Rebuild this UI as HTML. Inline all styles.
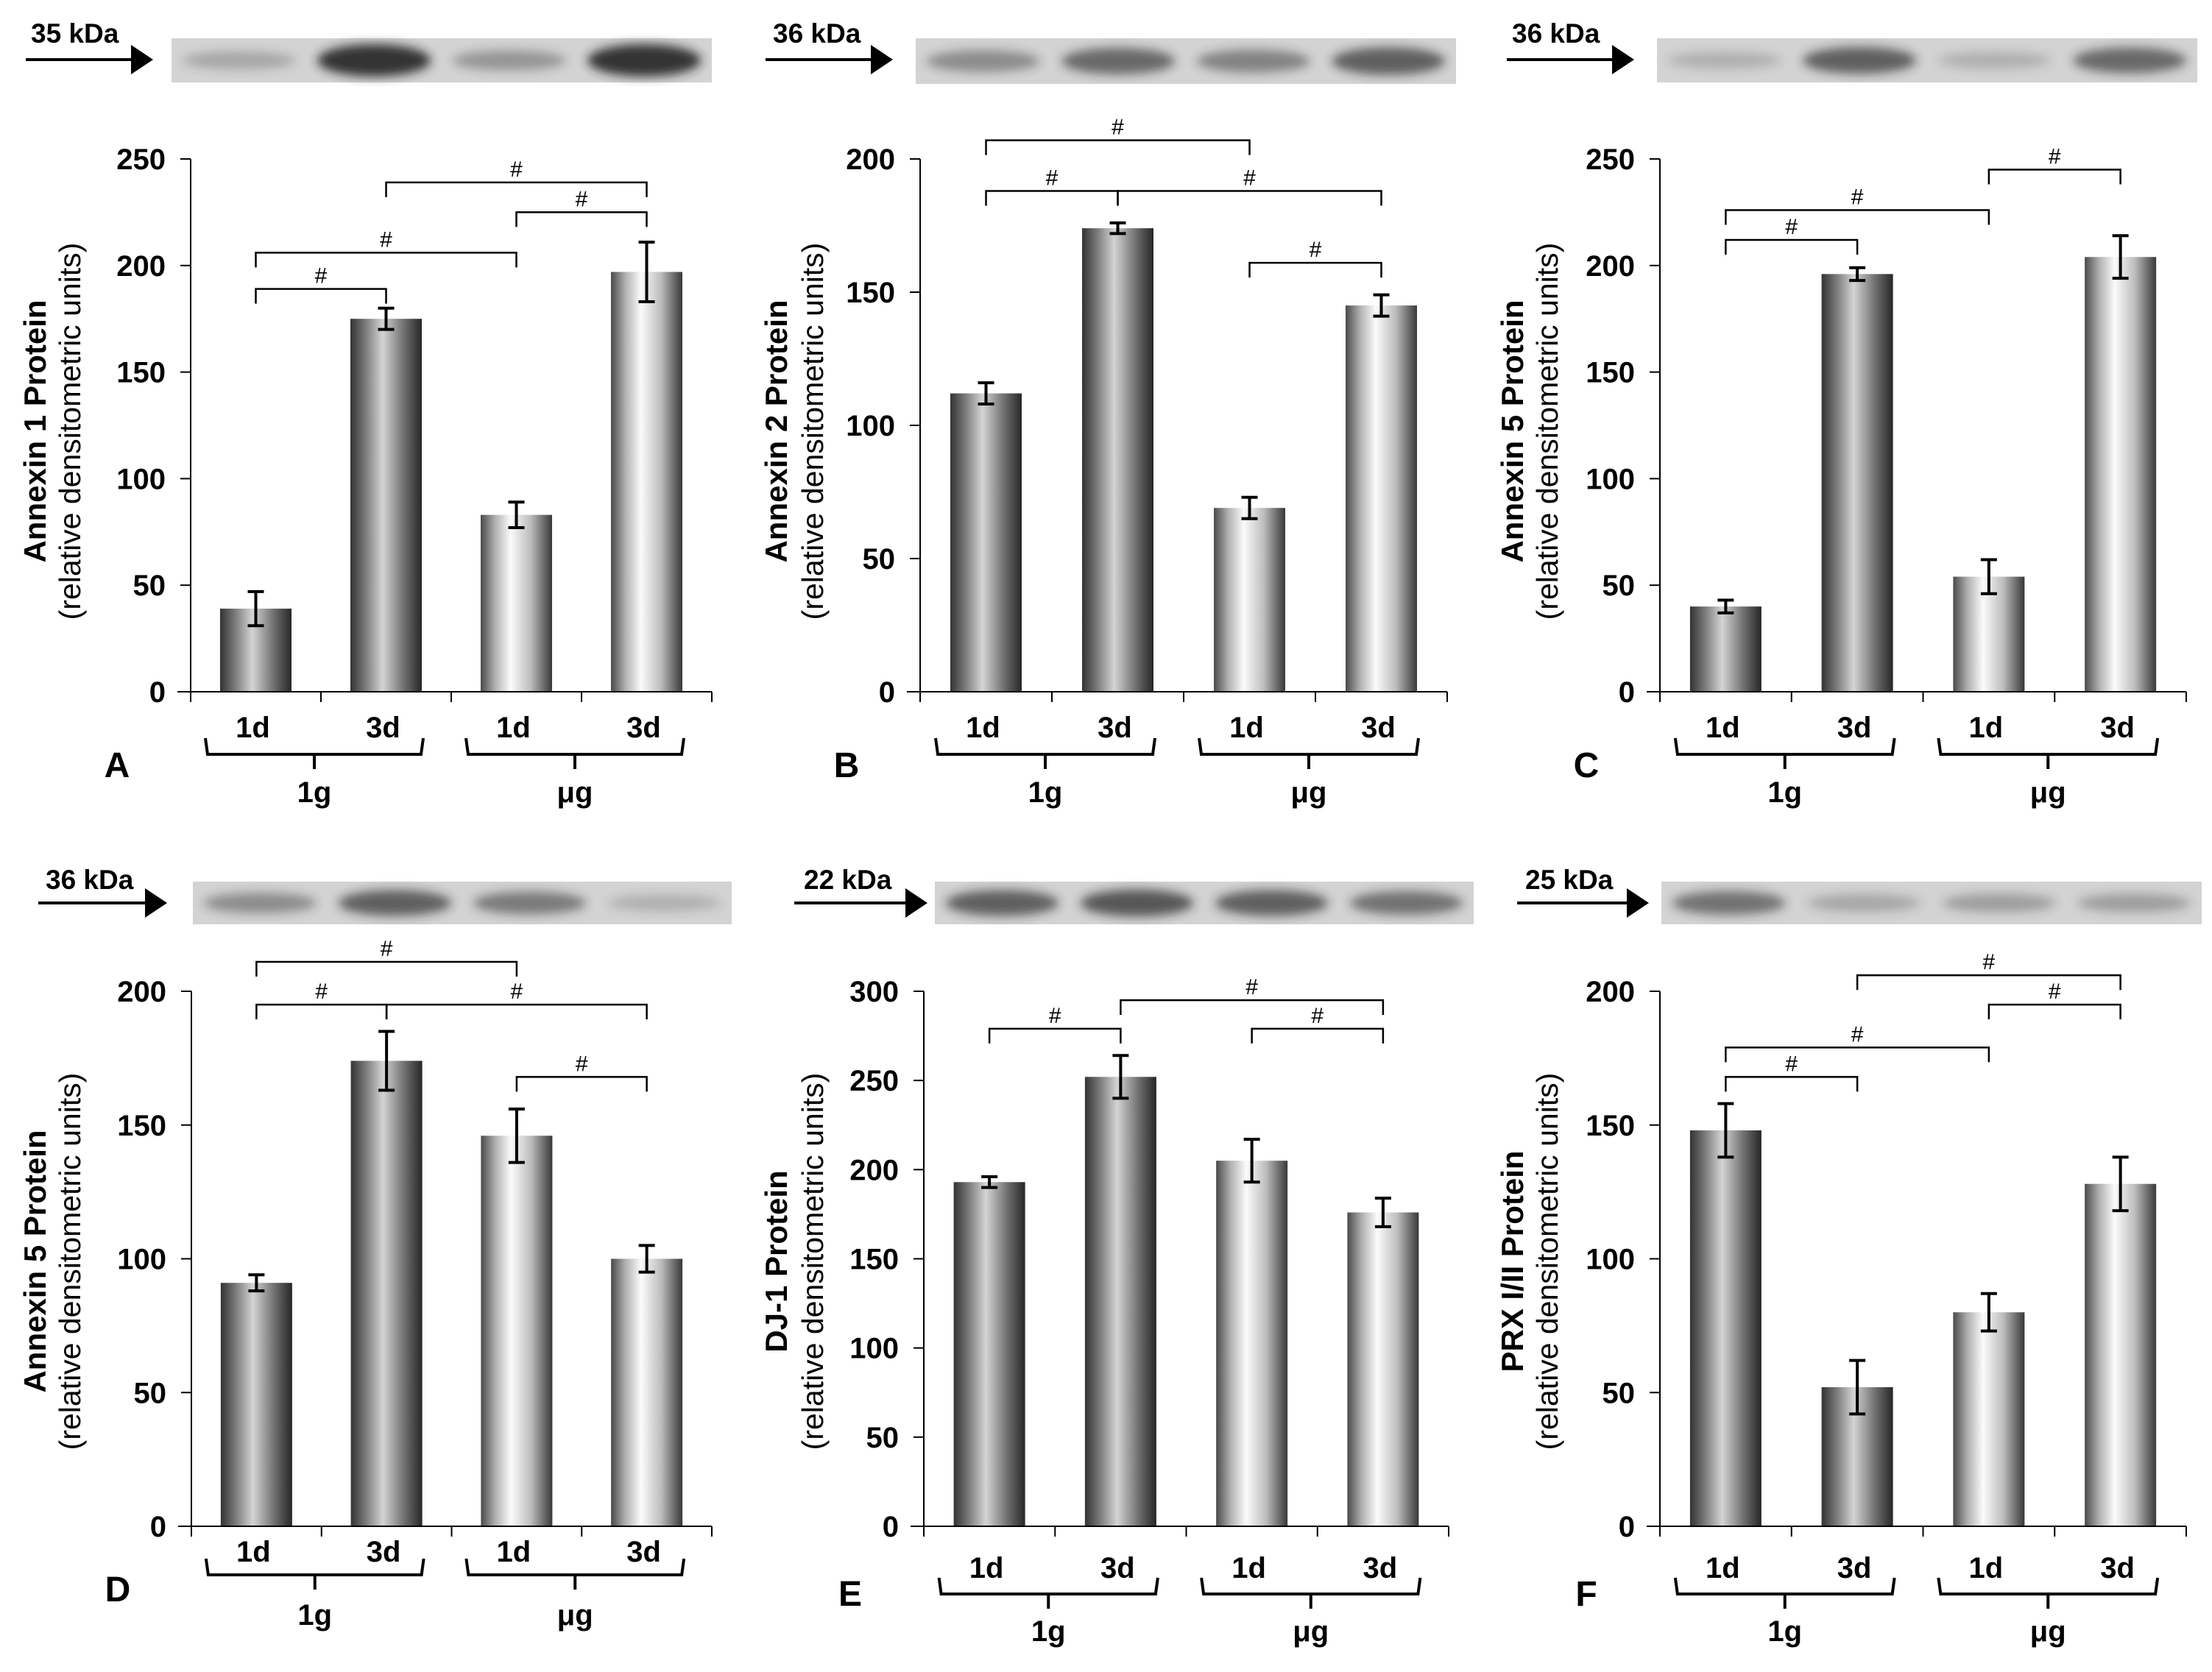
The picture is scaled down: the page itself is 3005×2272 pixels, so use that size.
<!DOCTYPE html>
<html><head><meta charset="utf-8"><style>
html,body{margin:0;padding:0;background:#fff;}
svg{display:block;}
text{font-family:"Liberation Sans",Arial,sans-serif;}
</style></head><body>
<svg id="fig" width="3005" height="2272" viewBox="0 0 3005 2272" xmlns="http://www.w3.org/2000/svg">
<defs>
<linearGradient id="g1" x1="0" x2="1" y1="0" y2="0">
<stop offset="0" stop-color="#333"/><stop offset="0.2" stop-color="#777"/><stop offset="0.45" stop-color="#d4d4d4"/><stop offset="0.75" stop-color="#707070"/><stop offset="1" stop-color="#262626"/>
</linearGradient>
<linearGradient id="g2" x1="0" x2="1" y1="0" y2="0">
<stop offset="0" stop-color="#4a4a4a"/><stop offset="0.2" stop-color="#b0b0b0"/><stop offset="0.42" stop-color="#fbfbfb"/><stop offset="0.7" stop-color="#bdbdbd"/><stop offset="1" stop-color="#383838"/>
</linearGradient>
<filter id="blur" x="-20%" y="-50%" width="140%" height="200%"><feGaussianBlur stdDeviation="7"/></filter>
</defs>
</svg>
<script>
// ---- data ----
const panelNames = ["A","B","C","D","E","F"];
const categories = ["1d","3d","1d","3d"];
const groups = ["1g","μg"];
const titles = ["Annexin 1 Protein","Annexin 2 Protein","Annexin 5 Protein","Annexin 5 Protein","DJ-1 Protein","PRX I/II Protein"];
const kda = ["35 kDa","36 kDa","36 kDa","36 kDa","22 kDa","25 kDa"];
const valuesA = [39,175,83,197];
const valuesB = [112,174,69,145];
const valuesC = [40,196,54,204];
const valuesD = [91,174,146,100];
const valuesE = [193,252,205,176];
const valuesF = [148,52,80,128];
const errorsA = [8,5,6,14];
const errorsB = [4,2,4,4];
const errorsC = [3,3,8,10];
const errorsD = [3,11,10,5];
const errorsE = [3,12,12,8];
const errorsF = [10,10,7,10];
const yMaxes = [250,200,250,200,300,200];
const yStep = 50;
// significance brackets: [from, to, level]
const sigA = [[0,1,189],[0,2,206],[2,3,225],[1,3,239]];
const sigB = [[0,2,207],[0,1,188],[1,3,188],[2,3,161]];
const sigC = [[0,1,212],[0,2,226],[2,3,245]];
const sigD = [[0,2,211],[0,1,195],[1,3,195],[2,3,168]];
const sigE = [[0,1,279],[1,3,295],[2,3,279]];
const sigF = [[1,3,206],[2,3,195],[0,2,179],[0,1,168]];
const bandIntensity = [[0.25,0.9,0.35,0.9],[0.4,0.6,0.45,0.65],[0.2,0.65,0.2,0.6],[0.4,0.65,0.5,0.2],[0.65,0.7,0.65,0.55],[0.55,0.25,0.3,0.3]];

const allValues=[valuesA,valuesB,valuesC,valuesD,valuesE,valuesF];
const allErrors=[errorsA,errorsB,errorsC,errorsD,errorsE,errorsF];
const allSig=[sigA,sigB,sigC,sigD,sigE,sigF];

// layout
const layout=[
 {ax:259,ax2:967,y0:940,yT:216,blot:[233,52,734,60],arrow:[35,208,81],lab:[42,58],yl:[48,96,586],xl:988,br:1003,gl:1090,letterY:1040},
 {ax:1250,ax2:1966,y0:940,yT:216,blot:[1244,52,734,62],arrow:[1040,1213,81],lab:[1050,58],yl:[1055,1105,586],xl:988,br:1003,gl:1090,letterY:1040},
 {ax:2255,ax2:2970,y0:940,yT:216,blot:[2251,52,734,60],arrow:[2047,2220,81],lab:[2054,58],yl:[2055,2103,586],xl:988,br:1003,gl:1090,letterY:1040},
 {ax:260,ax2:967,y0:2074,yT:1347,blot:[262,1198,732,58],arrow:[52,227,1227],lab:[62,1208],yl:[48,96,1714],xl:2108,br:2118,gl:2208,letterY:2160},
 {ax:1255,ax2:1968,y0:2074,yT:1347,blot:[1270,1198,732,58],arrow:[1079,1260,1227],lab:[1092,1208],yl:[1055,1105,1714],xl:2130,br:2144,gl:2230,letterY:2166},
 {ax:2255,ax2:2970,y0:2074,yT:1347,blot:[2257,1198,734,58],arrow:[2061,2240,1227],lab:[2072,1208],yl:[2055,2103,1714],xl:2130,br:2144,gl:2230,letterY:2166}
];
const NS="http://www.w3.org/2000/svg";
const svg=document.getElementById('fig');
function mk(tag,attrs,parent,txt){const e=document.createElementNS(NS,tag);for(const k in attrs)e.setAttribute(k,attrs[k]);if(txt!==undefined)e.textContent=txt;(parent||svg).appendChild(e);return e;}

panelNames.forEach((pn,p)=>{
 const L=layout[p], vals=allValues[p], errs=allErrors[p], yMax=yMaxes[p];
 const g=mk('g',{});
 
 
 const yS=v=>L.y0-(v/yMax)*(L.y0-L.yT);
 const slot=(L.ax2-L.ax)/4;
 const xC=i=>L.ax+slot*(i+0.5);
 const bw=97;
 // blot
 const [bx,by,bwid,bh]=L.blot;
 const bl=mk('g',{},g);
 
 
 mk('rect',{x:bx,y:by,width:bwid,height:bh,fill:'#d3d3d3'},bl);
 bandIntensity[p].forEach((a,i)=>{
  const cx=bx+bwid*(0.125+0.25*i);
  const band=mk('ellipse',{cx:cx,cy:by+bh*0.5,rx:bwid*0.105,ry:bh*(0.14+0.25*a),fill:'#202020',opacity:a,filter:'url(#blur)'},bl);
  
  
 });
 // arrow + kDa
 const [a1,a2,ay]=L.arrow;
 const ar=mk('g',{},g);
 
 
 mk('line',{x1:a1,x2:a2-28,y1:ay,y2:ay,stroke:'#000','stroke-width':4},ar);
 mk('polygon',{points:`${a2-30},${ay-20} ${a2},${ay} ${a2-30},${ay+20}`,fill:'#000'},ar);
 const kt=mk('text',{x:L.lab[0],y:L.lab[1],'font-size':37,'font-weight':'bold'},g,kda[p]);
 
 
 // y axis
 const yax=mk('g',{},g);
 
 
 mk('line',{x1:L.ax,x2:L.ax,y1:L.yT,y2:L.y0,stroke:'#000','stroke-width':2},yax);
 for(let v=0;v<=yMax;v+=yStep){
  const y=yS(v);
  mk('line',{x1:L.ax-14,x2:L.ax,y1:y,y2:y,stroke:'#000','stroke-width':2},yax);
  const t=mk('text',{x:L.ax-34,y:y+14,'font-size':40,'font-weight':'bold','text-anchor':'end'},yax,String(v));
  
  
 }
 // y title
 const [t1x,t2x,tcy]=L.yl;
 const yt=mk('text',{x:t1x,y:tcy,'font-size':42,'font-weight':'bold','text-anchor':'middle',transform:`rotate(-90 ${t1x} ${tcy})`,dy:14},g,titles[p]);
 
 
 const ys=mk('text',{x:t2x,y:tcy,'font-size':41,'text-anchor':'middle',transform:`rotate(-90 ${t2x} ${tcy})`,dy:13},g,'(relative densitometric units)');
 
 
 // bars
 vals.forEach((v,i)=>{
  const b=mk('rect',{x:xC(i)-bw/2,y:yS(v),width:bw,height:L.y0-yS(v),fill:i<2?'url(#g1)':'url(#g2)'},g);
  
  
  const e=errs[i], eb=mk('g',{},g);
  
  
  mk('line',{x1:xC(i),x2:xC(i),y1:yS(v+e),y2:yS(v-e),stroke:'#000','stroke-width':4},eb);
  mk('line',{x1:xC(i)-11,x2:xC(i)+11,y1:yS(v+e),y2:yS(v+e),stroke:'#000','stroke-width':4},eb);
  mk('line',{x1:xC(i)-11,x2:xC(i)+11,y1:yS(v-e),y2:yS(v-e),stroke:'#000','stroke-width':4},eb);
 });
 // x axis
 const xax=mk('g',{},g);
 
 
 mk('line',{x1:L.ax-18,x2:L.ax2,y1:L.y0,y2:L.y0,stroke:'#000','stroke-width':2},xax);
 for(let k=0;k<=4;k++){const x=L.ax+slot*k;mk('line',{x1:x,x2:x,y1:L.y0,y2:L.y0+14,stroke:'#000','stroke-width':2},xax);}
 categories.forEach((c,i)=>{
  const t=mk('text',{x:xC(i)-4,y:L.xl+14,'font-size':40,'font-weight':'bold','text-anchor':'middle'},xax,c);
  
  
 });
 // group braces
 [0,1].forEach(gi=>{
  const xl=xC(gi*2)-bw/2-20, xr=xC(gi*2+1)+bw/2+2, xm=(xl+xr)/2;
  const br=mk('path',{d:`M${xl},${L.br} L${xl+3},${L.br+22} L${xr-3},${L.br+22} L${xr},${L.br} M${xm},${L.br+22} L${xm},${L.br+42}`,fill:'none',stroke:'#000','stroke-width':4},g);
  
  
  const gt=mk('text',{x:xm,y:L.gl,'font-size':40,'font-weight':'bold','text-anchor':'middle'},g,groups[gi]);
  
  
 });
 const lt=mk('text',{x:L.ax-100,y:L.letterY+16,'font-size':48,'font-weight':'bold','text-anchor':'middle'},g,pn);
 
 
 // significance
 allSig[p].forEach(s=>{
  const [i,j,lv]=s, y=yS(lv), x1=xC(i), x2=xC(j);
  const sg=mk('g',{},g);
  
  
  mk('path',{d:`M${x1},${y+20} L${x1},${y} L${x2},${y} L${x2},${y+20}`,fill:'none',stroke:'#000','stroke-width':2.5},sg);
  mk('text',{x:(x1+x2)/2,y:y-8,'font-size':30,'font-family':'"Liberation Serif",serif','text-anchor':'middle'},sg,'#');
 });
});
</script>
</body></html>
